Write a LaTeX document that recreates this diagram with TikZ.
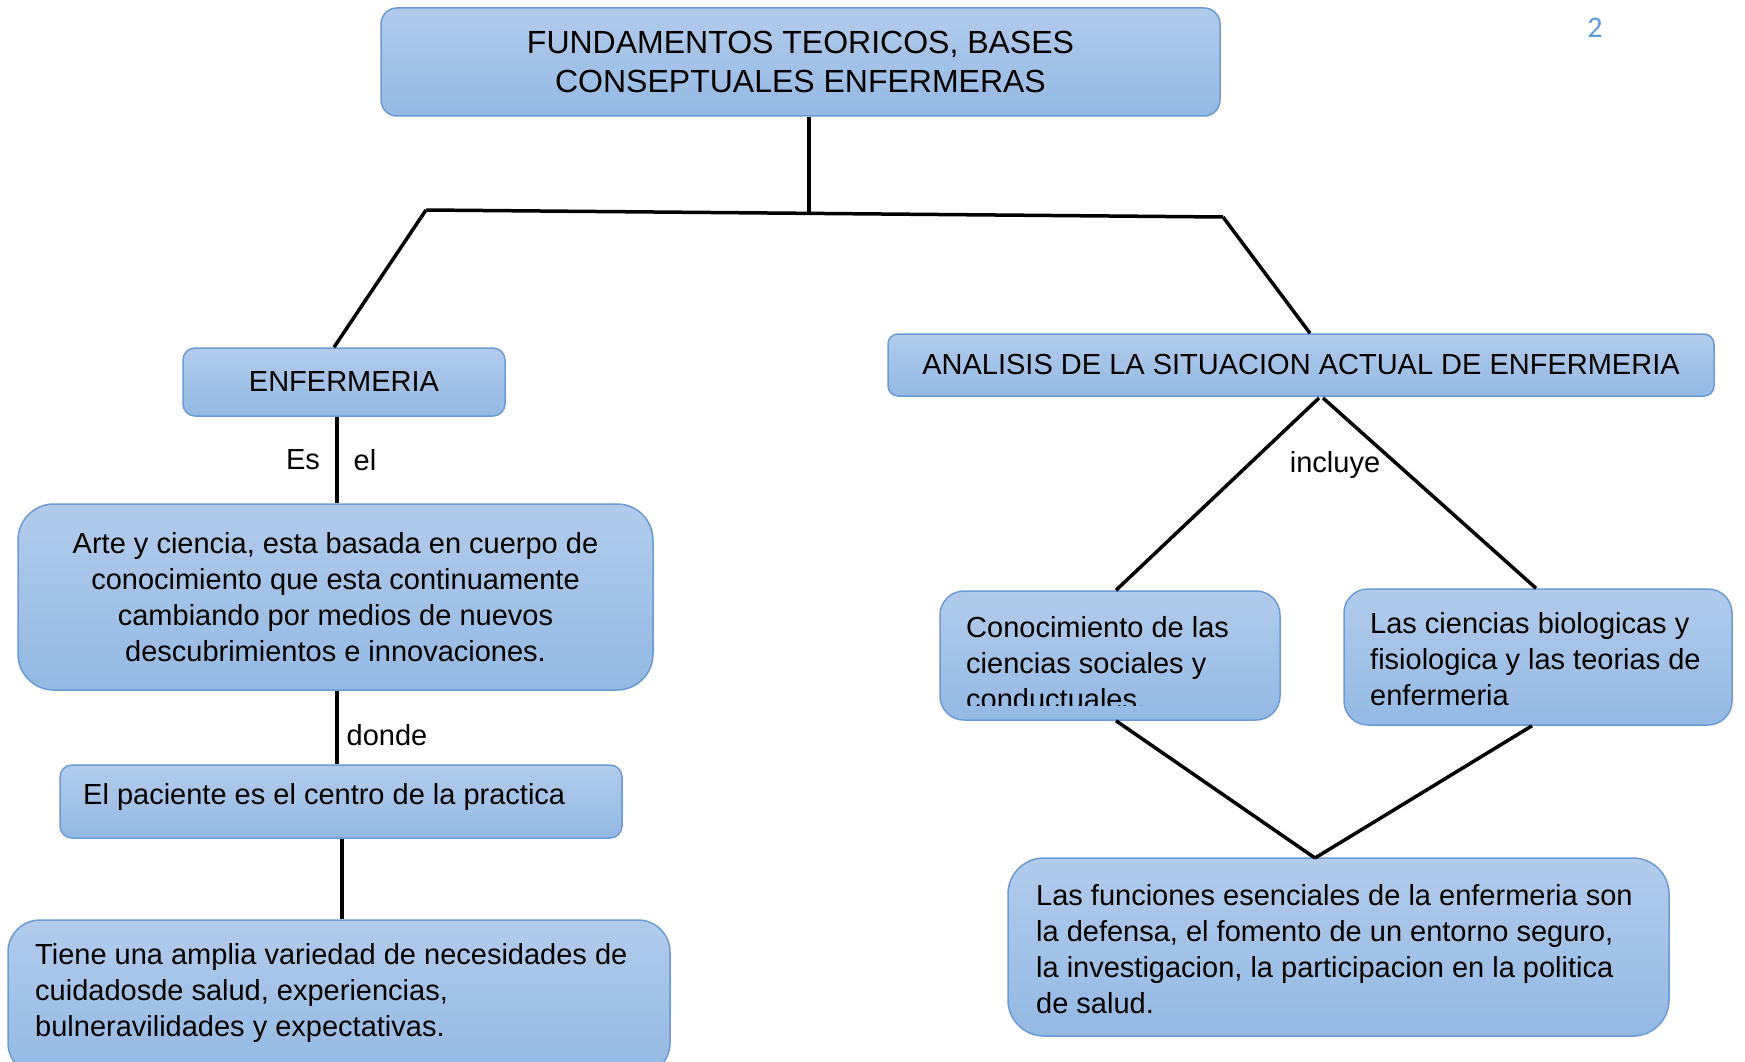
\documentclass[tikz,border=0pt]{standalone}
\usepackage{fontspec}
\setmainfont{Liberation Sans}
\newfontfamily\numfont{Carlito}
\definecolor{boxtop}{RGB}{178,203,235}
\definecolor{boxbot}{RGB}{148,185,227}
\definecolor{boxline}{RGB}{106,155,212}
\definecolor{pagenum}{RGB}{91,155,213}
\begin{document}
\begin{tikzpicture}[x=1pt,y=-1pt,
  box/.style={draw=boxline, line width=1.5pt, top color=boxtop, bottom color=boxbot, inner sep=0pt},
  txt/.style={inner sep=0pt, font=\fontsize{29}{36}\selectfont},
  lbl/.style={inner sep=0pt, font=\fontsize{29}{36}\selectfont},
  conn/.style={line width=3.5pt, black}]
\useasboundingbox (0,0) rectangle (1745,1062);
% boxes
\node[box, rounded corners=16pt, minimum width=839pt, minimum height=108pt, align=center,
  font=\fontsize{32}{39}\selectfont] (top) at (800.5,62) {FUNDAMENTOS TEORICOS, BASES\\CONSEPTUALES ENFERMERAS};
\node[box, rounded corners=12pt, minimum width=322pt, minimum height=68pt, txt] (enf) at (344,382) {ENFERMERIA};
\node[box, rounded corners=36pt, minimum width=635pt, minimum height=186pt, txt, align=center] (arte) at (335.5,597)
  {Arte y ciencia, esta basada en cuerpo de\\conocimiento que esta continuamente\\cambiando por medios de nuevos\\descubrimientos e innovaciones.};
\node[box, rounded corners=12pt, minimum width=562pt, minimum height=73pt] (pac) at (341,801.5) {};
\node[box, rounded corners=32pt, minimum width=662pt, minimum height=155pt] (tiene) at (339,997.5) {};
\node[box, rounded corners=10pt, minimum width=826pt, minimum height=62pt, txt] (ana) at (1301,365)
  {ANALISIS DE LA SITUACION ACTUAL DE ENFERMERIA};
\node[box, rounded corners=24pt, minimum width=340pt, minimum height=129pt] (con) at (1110,655.5) {};
\node[box, rounded corners=24pt, minimum width=388pt, minimum height=136pt] (las) at (1538,657) {};
\node[box, rounded corners=36pt, minimum width=661pt, minimum height=178pt] (fun) at (1338.5,947) {};
% box texts
\node[txt, anchor=west] (pact) at (83,797) {El paciente es el centro de la practica};
\node[txt, anchor=west, align=left] (tienet) at (35,993)
  {Tiene una amplia variedad de necesidades de\\cuidadosde salud, experiencias,\\bulneravilidades y expectativas.};
\begin{scope}
\clip (940,591) rectangle (1280,705);
\node[txt, anchor=west, align=left] (cont) at (966,663)
  {Conocimiento de las\\ciencias sociales y\\conductuales.};
\end{scope}
\node[txt, anchor=west, align=left] (last) at (1370,659)
  {Las ciencias biologicas y\\fisiologica y las teorias de\\enfermeria};
\node[txt, anchor=west, align=left] (funt) at (1036,949)
  {Las funciones esenciales de la enfermeria son\\la defensa, el fomento de un entorno seguro,\\la investigacion, la participacion en la politica\\de salud.};
% junction coordinates
\coordinate (L) at (426,210);
\coordinate (R) at (1223,217);
\coordinate (J) at (809,213.4);
\coordinate (A1) at (1319,398);
\coordinate (A2) at (1323,398);
\coordinate (F) at (1315,858);
% connectors
\draw[conn] ([xshift=8.5pt]top.south) -- (J);
\draw[conn] (L) -- (R);
\draw[conn] (L) -- ([xshift=-10pt]enf.north);
\draw[conn] (R) -- ([xshift=9pt]ana.north);
\draw[conn] ([xshift=-7pt]enf.south) -- ([xshift=1.5pt]arte.north);
\draw[conn] ([xshift=1.5pt]arte.south) -- ([xshift=-4pt]pac.north);
\draw[conn] ([xshift=1pt]pac.south) -- ([xshift=3pt]tiene.north);
\draw[conn] (A1) -- ([xshift=6pt]con.north);
\draw[conn] (A2) -- ([xshift=-2pt]las.north);
\draw[conn] ([xshift=6pt]con.south) -- (F);
\draw[conn] ([xshift=-6pt]las.south) -- (F);
% labels
\node[lbl] (es) at (303,460) {Es};
\node[lbl] (el) at (365,460) {el};
\node[lbl] (donde) at (387,735) {donde};
\node[lbl] (incl) at (1335,465) {incluye};
\node[inner sep=0pt, text=pagenum, font=\numfont\fontsize{30}{36}\selectfont] (num) at (1595,28) {2};
\end{tikzpicture}
\end{document}
